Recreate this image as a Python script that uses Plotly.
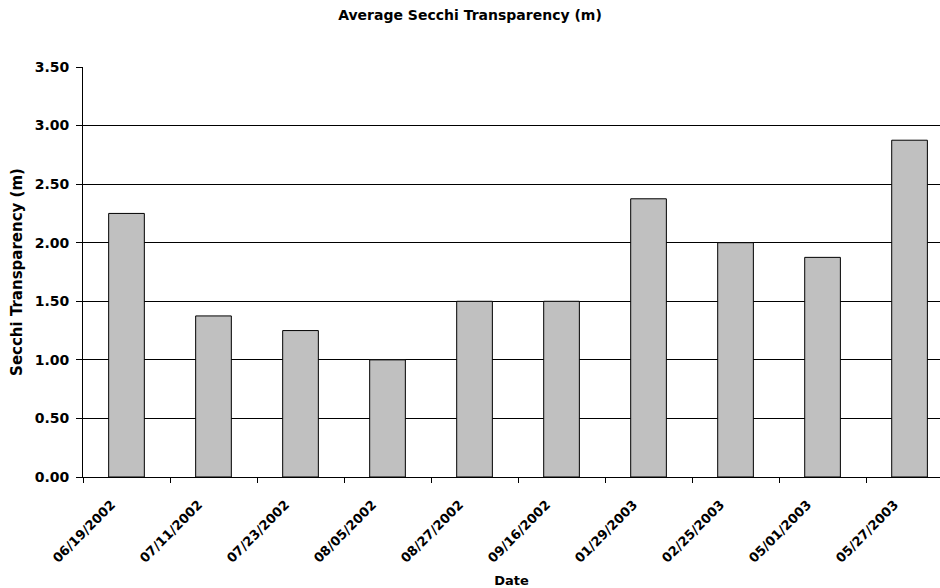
import plotly.graph_objects as go

dates = ["06/19/2002", "07/11/2002", "07/23/2002", "08/05/2002", "08/27/2002",
         "09/16/2002", "01/29/2003", "02/25/2003", "05/01/2003", "05/27/2003"]
secchi = [2.25, 1.375, 1.25, 1.0, 1.5, 1.5, 2.375, 2.0, 1.875, 2.875]
y_ticks = [0.0, 0.5, 1.0, 1.5, 2.0, 2.5, 3.0, 3.5]
y_tick_labels = ["0.00", "0.50", "1.00", "1.50", "2.00", "2.50", "3.00", "3.50"]

FONT = "DejaVu Sans"

fig = go.Figure(go.Bar(
    x=dates, y=secchi, width=0.41,
    marker=dict(color="#C0C0C0", line=dict(color="black", width=1)),
))

fig.update_layout(
    width=940, height=588,
    margin=dict(l=83, r=0, t=67, b=111),
    paper_bgcolor="white", plot_bgcolor="white",
    font=dict(family=FONT, color="black"),
    showlegend=False,
    title=dict(text="<b>Average Secchi Transparency (m)</b>", x=0.5, xanchor="center",
               y=1 - 15 / 588, yanchor="middle", yref="container",
               font=dict(size=14, family=FONT, color="black")),
    xaxis=dict(
        type="category", range=[-0.5, 9.35],
        showline=True, linecolor="black", linewidth=1,
        ticks="outside", ticklen=5, tickcolor="black", tickson="boundaries",
        tickangle=-45, tickfont=dict(size=13, family=FONT, color="black"),
        ticklabelstandoff=14, ticklabelshift=-15,
        tickprefix="<b>", ticksuffix="</b>",
        showgrid=False,
        title=dict(text="<b>Date</b>", font=dict(size=13, family=FONT), standoff=12),
    ),
    yaxis=dict(
        range=[0, 3.5], tickvals=y_ticks, ticktext=["<b>%s</b>" % t for t in y_tick_labels],
        showline=True, linecolor="black", linewidth=1,
        ticks="outside", ticklen=6, tickcolor="black",
        ticklabelstandoff=4,
        tickfont=dict(size=14, family=FONT, color="black"),
        showgrid=True, gridcolor="black", gridwidth=1,
        zeroline=False,
        title=dict(text="<b>Secchi Transparency (m)</b>", font=dict(size=15, family=FONT), standoff=8),
    ),
)

fig.write_html("out.html", config={"displayModeBar": False},
               post_script="document.body.style.margin='0';document.body.style.overflow='hidden';")
